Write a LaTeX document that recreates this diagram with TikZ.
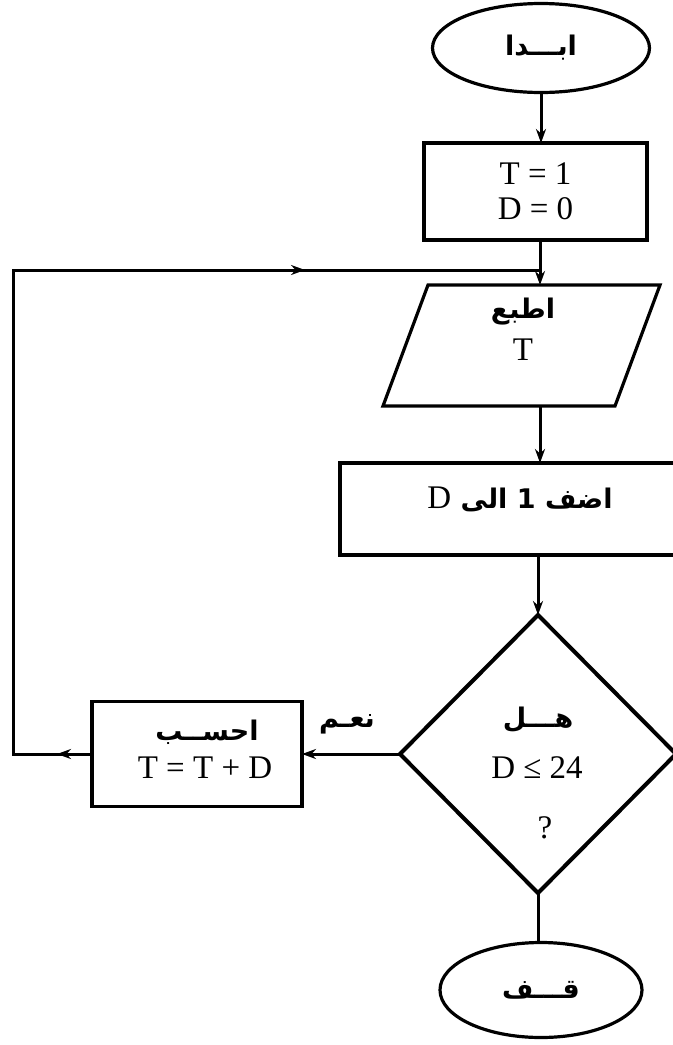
\documentclass[tikz,border=0pt]{standalone}
\usepackage{fontspec}
\setmainfont{Liberation Serif}
\newfontfamily\arabicfont[Script=Arabic]{DejaVu Sans}
\TeXXeTstate=1
\usetikzlibrary{shapes.geometric,arrows.meta,decorations.markings}

\begin{document}
\begin{tikzpicture}[x=1bp,y=-1bp,
  every node/.style={inner sep=0pt, outer sep=0pt},
  shapeline/.style={draw, line width=3.2bp},
  flow/.style={line width=3bp, -{Stealth[length=14bp,width=10bp]}},
  plain/.style={line width=3bp},
  ar/.style={font=\arabicfont\bfseries\fontsize{27bp}{30bp}\selectfont},
  lat/.style={font=\fontsize{33bp}{35bp}\selectfont},
]
\useasboundingbox (0,0) rectangle (673,1045);

% start
\node[ellipse, shapeline, minimum width=217bp, minimum height=89bp, ar] (start) at (541,48) {\beginR ابـــدا\endR};

% init box
\node[rectangle, shapeline, minimum width=223bp, minimum height=97bp, lat, align=center] (init) at (535.5,191.5) {T = 1\\D = 0};

\coordinate (join) at (540,270);

% parallelogram (print)
\node[minimum width=232bp, minimum height=121bp] (para) at (521.5,345.5) {};
\draw[plain, line width=3.2bp] ([xshift=22.5bp]para.north west) -- ([xshift=22.5bp]para.north east)
  -- ([xshift=-22.5bp]para.south east) -- ([xshift=-22.5bp]para.south west) -- cycle;
\node[ar] (paraA) at (523,312) {\beginR اطبع\endR};
\node[lat] (paraT) at (523,350) {T};

% add box
\node[rectangle, shapeline, minimum width=335bp, minimum height=92bp] (add) at (507.5,509) {};
\node[ar] (addT) at (520,499)
  {\beginR اضف 1 الى {\rmfamily\mdseries\fontsize{33bp}{35bp}\selectfont D}\endR};

% decision
\node[diamond, shapeline, line width=4bp, minimum width=276bp, minimum height=278bp] (dec) at (538,754) {};
\node[ar] (q1) at (538,720) {\beginR هـــل\endR};
\node[lat] (q2) at (537,768) {D ≤ 24};
\node[lat] (q3) at (545,828) {?};

% calc box
\node[rectangle, shapeline, minimum width=210bp, minimum height=105bp] (calc) at (197,754) {};
\node[ar] (calcA) at (207,732) {\beginR احســب\endR};
\node[lat] (calcB) at (205,768) {T = T + D};

\node[ar] (yes) at (347,724) {\beginR نعـم\endR};

% stop
\node[ellipse, shapeline, minimum width=202bp, minimum height=95bp, ar] (stop) at (541,990) {\beginR قـــف\endR};

\coordinate (c1) at (13,754);
\coordinate (c2) at (13,270);

% connectors
\draw[flow] (start.south) -- (start.south |- init.north);
\draw[flow] (init.south -| join) -- (join |- para.north);
\draw[flow] (join |- para.south) -- (join |- add.north);
\draw[flow] (dec.north |- add.south) -- (dec.north);
\draw[flow] (dec.west) -- (calc.east);
\draw[plain, postaction=decorate, decoration={markings,
    mark=at position 35bp with {\arrow{Stealth[length=14bp,width=10bp]}},
    mark=at position 855bp with {\arrow{Stealth[length=14bp,width=10bp]}}}]
  (calc.west) -- (c1) -- (c2) -- (join);
\draw[plain] (dec.south) -- (dec.south |- stop.north);
\end{tikzpicture}
\end{document}
